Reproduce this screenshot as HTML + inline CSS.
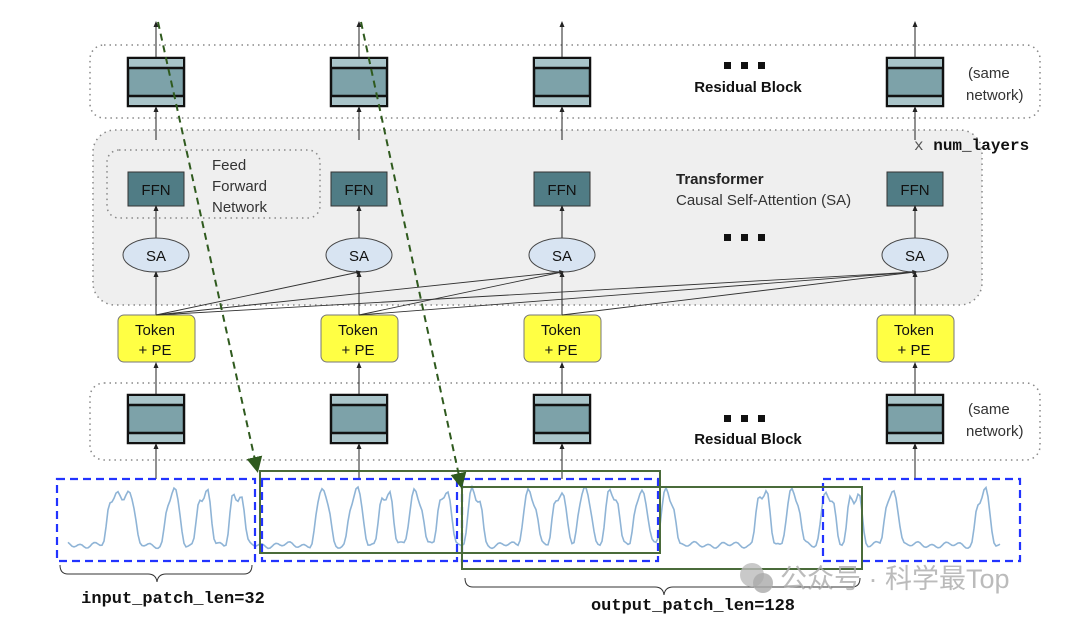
<!DOCTYPE html>
<html><head><meta charset="utf-8"><style>
html,body{margin:0;padding:0;background:#fff;}
svg{display:block;font-family:"Liberation Sans",sans-serif;}
.m{font-family:"Liberation Mono",monospace;font-weight:bold;}
</style></head><body>
<svg id="s" width="1080" height="622" viewBox="0 0 1080 622" xmlns="http://www.w3.org/2000/svg">
<defs>
<marker id="a" markerWidth="6" markerHeight="6" refX="3" refY="3" orient="auto"><path d="M0,0.5 L6,3 L0,5.5z" fill="#222"/></marker>
<marker id="g" markerWidth="8" markerHeight="8" refX="6" refY="4" orient="auto"><path d="M0,0 L8,4 L0,8z" fill="#2f5a1e"/></marker>
<g id="blk">
<rect x="0" y="0" width="56" height="48" fill="#7da2a9" stroke="#111" stroke-width="2.5"/>
<rect x="1" y="1" width="54" height="9" fill="#a9c4c9"/>
<rect x="1" y="38" width="54" height="9" fill="#a9c4c9"/>
<line x1="0" y1="10" x2="56" y2="10" stroke="#111" stroke-width="2.5"/>
<line x1="0" y1="38" x2="56" y2="38" stroke="#111" stroke-width="2.5"/>
</g>
</defs>

<rect x="90" y="45" width="950" height="73" rx="14" fill="none" stroke="#888" stroke-width="1.5" stroke-dasharray="1.5 4"/>
<rect x="93" y="130" width="889" height="175" rx="22" fill="#efefef" stroke="#888" stroke-width="1.5" stroke-dasharray="1.5 4"/>
<rect x="107" y="150" width="213" height="68" rx="12" fill="none" stroke="#888" stroke-width="1.5" stroke-dasharray="1.5 4"/>
<rect x="90" y="383" width="950" height="77" rx="14" fill="none" stroke="#888" stroke-width="1.5" stroke-dasharray="1.5 4"/>

<g id="cols"></g>

<g stroke="#333" stroke-width="0.9" fill="none">
<line x1="156" y1="315" x2="359" y2="272" marker-end="url(#a)"/>
<line x1="156" y1="315" x2="562" y2="272" marker-end="url(#a)"/>
<line x1="156" y1="315" x2="915" y2="272" marker-end="url(#a)"/>
<line x1="359" y1="315" x2="562" y2="272"/>
<line x1="359" y1="315" x2="915" y2="272"/>
<line x1="562" y1="315" x2="915" y2="272"/>
</g>

<text x="212" y="170" font-size="15" fill="#333">Feed</text>
<text x="212" y="191" font-size="15" fill="#333">Forward</text>
<text x="212" y="212" font-size="15" fill="#333">Network</text>
<text x="676" y="184" font-size="15" font-weight="bold" fill="#222">Transformer</text>
<text x="676" y="205" font-size="15" fill="#333">Causal Self-Attention (SA)</text>
<g fill="#111"><rect x="724" y="234" width="7" height="7"/><rect x="741" y="234" width="7" height="7"/><rect x="758" y="234" width="7" height="7"/>
<rect x="724" y="62" width="7" height="7"/><rect x="741" y="62" width="7" height="7"/><rect x="758" y="62" width="7" height="7"/>
<rect x="724" y="415" width="7" height="7"/><rect x="741" y="415" width="7" height="7"/><rect x="758" y="415" width="7" height="7"/></g>
<text x="748" y="92" font-size="15" font-weight="bold" text-anchor="middle" fill="#111">Residual Block</text>
<text x="748" y="444" font-size="15" font-weight="bold" text-anchor="middle" fill="#111">Residual Block</text>
<text x="968" y="78" font-size="15" fill="#333">(same</text>
<text x="966" y="100" font-size="15" fill="#333">network)</text>
<text x="968" y="414" font-size="15" fill="#333">(same</text>
<text x="966" y="436" font-size="15" fill="#333">network)</text>
<text x="914" y="150" font-size="16" class="m" fill="#111"><tspan font-weight="normal" fill="#555">x</tspan> num_layers</text>

<path id="ts" fill="none" stroke="#8fb4d6" stroke-width="1.6"/>

<g fill="none" stroke="#2233ff" stroke-width="2.2" stroke-dasharray="8 5">
<rect x="57" y="479" width="198" height="82"/>
<rect x="262" y="479" width="195" height="82"/>
<rect x="462" y="479" width="196" height="82"/>
<rect x="823" y="479" width="197" height="82"/>
</g>
<g fill="none" stroke="#4a6b3a" stroke-width="2">
<rect x="260" y="471" width="400" height="82"/>
<rect x="462" y="487" width="400" height="82"/>
</g>
<g stroke="#2f5a1e" stroke-width="2" stroke-dasharray="7 5" fill="none">
<line x1="158" y1="22" x2="257" y2="469" marker-end="url(#g)"/>
<line x1="361" y1="22" x2="461" y2="485" marker-end="url(#g)"/>
</g>
<g fill="none" stroke="#333" stroke-width="1">
<path d="M60,565 Q60,574 68,574 L148,574 Q156,574 157,582 Q158,574 166,574 L244,574 Q252,574 252,565"/>
<path d="M465,578 Q465,587 473,587 L655,587 Q663,587 664,595 Q665,587 673,587 L852,587 Q860,587 860,578"/>
</g>
<text x="173" y="603" font-size="17" class="m" text-anchor="middle" fill="#111">input_patch_len=32</text>
<text x="693" y="610" font-size="17" class="m" text-anchor="middle" fill="#111">output_patch_len=128</text>
<text x="780" y="588" font-size="27" fill="#aaa" fill-opacity="0.8" style="font-family:'Liberation Sans','Noto Sans CJK SC',sans-serif">公众号 · 科学最Top</text>
<circle cx="752" cy="575" r="12" fill="#bbb" opacity="0.8"/><circle cx="763" cy="583" r="10" fill="#aaa" opacity="0.8"/>
</svg>
<script>
var cols=[156,359,562,915],h='';
cols.forEach(function(x){
h+='<line x1="'+x+'" y1="58" x2="'+x+'" y2="24" stroke="#222" marker-end="url(#a)"/>';
h+='<use href="#blk" x="'+(x-28)+'" y="58"/>';
h+='<line x1="'+x+'" y1="140" x2="'+x+'" y2="109" stroke="#222" marker-end="url(#a)"/>';
h+='<rect x="'+(x-28)+'" y="172" width="56" height="34" fill="#507c85" stroke="#333"/>';
h+='<text x="'+x+'" y="195" font-size="15" text-anchor="middle" fill="#111">FFN</text>';
h+='<line x1="'+x+'" y1="238" x2="'+x+'" y2="208" stroke="#222" marker-end="url(#a)"/>';
h+='<ellipse cx="'+x+'" cy="255" rx="33" ry="17" fill="#d8e4f2" stroke="#444"/>';
h+='<text x="'+x+'" y="261" font-size="15" text-anchor="middle" fill="#111">SA</text>';
h+='<line x1="'+x+'" y1="315" x2="'+x+'" y2="274" stroke="#222" marker-end="url(#a)"/>';
h+='<rect x="'+(x-38)+'" y="315" width="77" height="47" rx="6" fill="#ffff44" stroke="#777"/>';
h+='<text x="'+(x-1)+'" y="335" font-size="15" text-anchor="middle" fill="#111">Token</text>';
h+='<text x="'+(x-1)+'" y="355" font-size="15" text-anchor="middle" fill="#111">+ PE</text>';
h+='<line x1="'+x+'" y1="395" x2="'+x+'" y2="365" stroke="#222" marker-end="url(#a)"/>';
h+='<use href="#blk" x="'+(x-28)+'" y="395"/>';
h+='<line x1="'+x+'" y1="479" x2="'+x+'" y2="446" stroke="#222" marker-end="url(#a)"/>';
});
document.getElementById('cols').innerHTML=h;
var peaks=[115,128,173,204,237,323,356,386,416,445,475,530,560,585,612,641,668,763,793,828,855,892,983];
function f(x){var y=0;peaks.forEach(function(p){var d=(x-p)/6;y+=Math.exp(-d*d*d*d/4);});
y=Math.min(y,1);
return 545-y*50-Math.sin(x*0.55)*y*6+Math.sin(x*0.45)*2+Math.sin(x*0.17)*1.5;}
var d='';for(var x=68;x<=1000;x+=2){var y=f(x);d+=(d?'L':'M')+x.toFixed(1)+','+y.toFixed(1);}
document.getElementById('ts').setAttribute('d',d);
</script>
</body></html>
